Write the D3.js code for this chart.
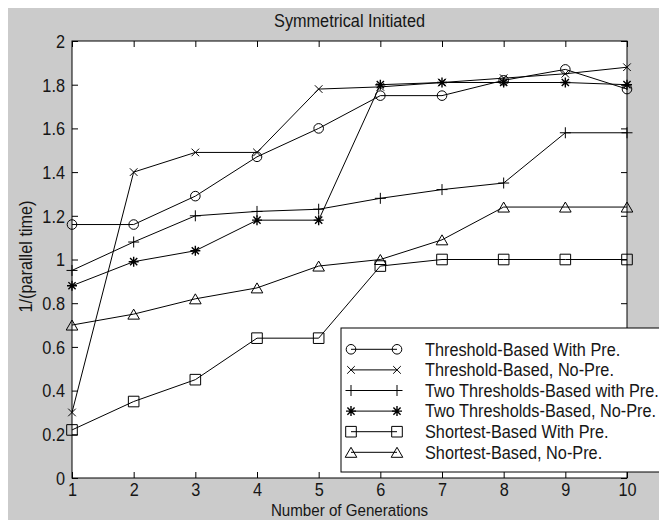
<!DOCTYPE html>
<html><head><meta charset="utf-8">
<script src="https://cdn.jsdelivr.net/npm/d3@7/dist/d3.min.js"></script>
<style>body{margin:0;background:#fff}svg{display:block}text{font-family:"Liberation Sans",Arial,Helvetica,sans-serif;fill:#161616}</style>
</head><body>
<svg id="c" width="659" height="520"></svg>
<script>
const generations = [1,2,3,4,5,6,7,8,9,10];
const thresholdWithPre    = [1.16,1.16,1.29,1.47,1.60,1.75,1.75,1.82,1.87,1.78];
const thresholdNoPre      = [0.30,1.40,1.49,1.49,1.78,1.79,1.81,1.83,1.85,1.88];
const twoThresholdWithPre = [0.95,1.08,1.20,1.22,1.23,1.28,1.32,1.35,1.58,1.58];
const twoThresholdNoPre   = [0.88,0.99,1.04,1.18,1.18,1.80,1.81,1.81,1.81,1.80];
const shortestWithPre     = [0.22,0.35,0.45,0.64,0.64,0.97,1.00,1.00,1.00,1.00];
const shortestNoPre       = [0.70,0.75,0.82,0.87,0.97,1.00,1.09,1.24,1.24,1.24];
const seriesNames = ["Threshold-Based With Pre.","Threshold-Based, No-Pre.","Two Thresholds-Based with Pre.","Two Thresholds-Based, No-Pre.","Shortest-Based With Pre.","Shortest-Based, No-Pre."];
const seriesMarkers = ["circle","x","plus","star","square","triangle"];
const xTicks = [1,2,3,4,5,6,7,8,9,10];
const yTicks = [0,0.2,0.4,0.6,0.8,1,1.2,1.4,1.6,1.8,2];
const yTickLabels = ["0","0.2","0.4","0.6","0.8","1","1.2","1.4","1.6","1.8","2"];
const titleText = "Symmetrical Initiated";
const xLabel = "Number of Generations";
const yLabel = "1/(parallel time)";

const seriesValues = [thresholdWithPre,thresholdNoPre,twoThresholdWithPre,twoThresholdNoPre,shortestWithPre,shortestNoPre];

const FS = 18.5, SX = 0.88;
const svg = d3.select("#c");
const L = 72, T = 41, R = 627, B = 478;
svg.append("rect").attr("x",8).attr("y",8).attr("width",651).attr("height",512).attr("fill","#cbcbcb");
svg.append("rect").attr("x",L).attr("y",T).attr("width",R-L).attr("height",B-T).attr("fill","#fff");

const x = d3.scaleLinear().domain([1,10]).range([L,R]);
const y = d3.scaleLinear().domain([0,2]).range([B,T]);

function styleAxis(g){
  g.select(".domain").remove();
  g.selectAll(".tick line").attr("stroke","#000").attr("stroke-width",1);
  g.selectAll(".tick text").attr("font-size",FS).attr("transform",`scale(${SX},1)`).style("font-family",'"Liberation Sans",Arial,sans-serif').attr("fill","#161616");
}
const yfmt = d => yTickLabels[yTicks.indexOf(d)];
svg.append("g").attr("transform",`translate(${L},0)`)
  .call(d3.axisLeft(y).tickValues(yTicks).tickFormat(yfmt).tickSizeInner(-6).tickSizeOuter(0).tickPadding(8))
  .call(styleAxis).selectAll(".tick text").attr("dy","0.34em");
svg.append("g").attr("transform",`translate(${R},0)`)
  .call(d3.axisRight(y).tickValues(yTicks).tickFormat("").tickSizeInner(-6).tickSizeOuter(0))
  .call(styleAxis);
svg.append("g").attr("transform",`translate(0,${B})`)
  .call(d3.axisBottom(x).tickValues(xTicks).tickFormat(d3.format("d")).tickSizeInner(-6).tickSizeOuter(0).tickPadding(5))
  .call(styleAxis);
svg.append("g").attr("transform",`translate(0,${T})`)
  .call(d3.axisTop(x).tickValues(xTicks).tickFormat("").tickSizeInner(-6).tickSizeOuter(0))
  .call(styleAxis);

svg.append("rect").attr("x",L).attr("y",T).attr("width",R-L).attr("height",B-T)
  .attr("fill","none").attr("stroke","#000").attr("stroke-width",1);

function markerPath(type){
  switch(type){
    case "circle": { const r=4.8; return `M${-r},0A${r},${r} 0 1,0 ${r},0A${r},${r} 0 1,0 ${-r},0Z`; }
    case "x": { const s=3.8; return `M${-s},${-s}L${s},${s}M${-s},${s}L${s},${-s}`; }
    case "plus": { const s=5.5; return `M${-s},0L${s},0M0,${-s}L0,${s}`; }
    case "star": { const s=5, d=3.6; return `M${-s},0L${s},0M0,${-s}L0,${s}M${-d},${-d}L${d},${d}M${-d},${d}L${d},${-d}`; }
    case "square": { const s=5.3; return `M${-s},${-s}L${s},${-s}L${s},${s}L${-s},${s}Z`; }
    case "triangle": { const w=5.8, h=5; return `M0,${-h}L${w},${h}L${-w},${h}Z`; }
  }
}

const line = d3.line().x((d,i)=>x(generations[i])).y(d=>y(d));
const plot = svg.append("g");
seriesValues.forEach((vals,k)=>{
  plot.append("path").datum(vals).attr("d",line).attr("fill","none").attr("stroke","#000").attr("stroke-width",1);
  plot.selectAll(null).data(vals).enter().append("path")
    .attr("transform",(d,i)=>`translate(${x(generations[i])},${y(d)})`)
    .attr("d",markerPath(seriesMarkers[k]))
    .attr("fill","none").attr("stroke","#000").attr("stroke-width",seriesMarkers[k]==="star"?1.4:1);
});

function txt(px,py,s,anchor,rot,fs){
  svg.append("text").attr("transform",`translate(${px},${py})${rot?` rotate(${rot})`:""} scale(${SX},1)`)
    .attr("text-anchor",anchor).attr("font-size",fs||FS).text(s);
}
txt((L+R)/2,27,titleText,"middle");
txt((L+R)/2,516.2,xLabel,"middle",0,17.2);
txt(32,(T+B)/2-3,yLabel,"middle",-90);

// legend
const lg = svg.append("g");
lg.append("rect").attr("x",341).attr("y",328).attr("width",400).attr("height",144)
  .attr("fill","#fff").attr("stroke","#000").attr("stroke-width",1);
seriesNames.forEach((name,k)=>{
  const cy = 349.3 + k*20.6;
  lg.append("line").attr("x1",351).attr("x2",397).attr("y1",cy).attr("y2",cy).attr("stroke","#000");
  [351,397].forEach(mx=>{
    lg.append("path").attr("transform",`translate(${mx},${cy})`).attr("d",markerPath(seriesMarkers[k]))
      .attr("fill","none").attr("stroke","#000").attr("stroke-width",seriesMarkers[k]==="star"?1.4:1);
  });
  lg.append("text").attr("transform",`translate(425,${cy+6.3}) scale(${SX},1)`).attr("font-size",FS).text(name);
});
</script>
</body></html>
